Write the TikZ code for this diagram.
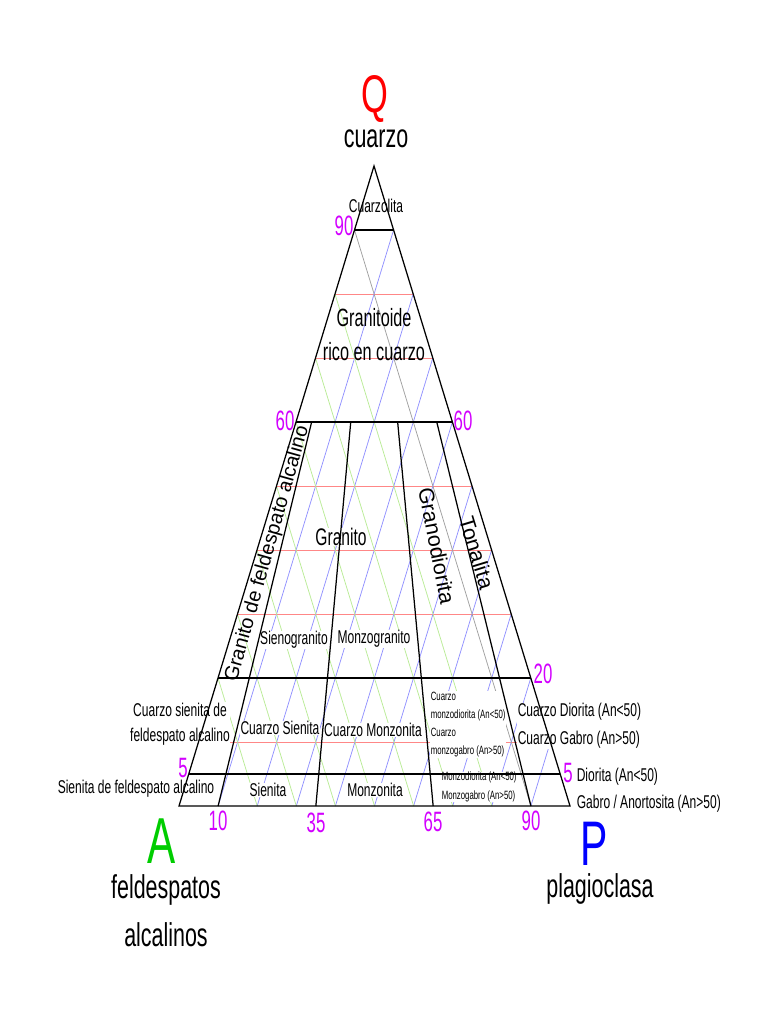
\documentclass[tikz,border=0pt]{standalone}
\usepackage{fontspec}
\setmainfont{Liberation Sans}[FakeStretch=0.65]
\newfontfamily\plainfont{Liberation Sans}
\newfontfamily\numfont{Liberation Sans}[FakeStretch=0.6]
\usetikzlibrary{calc}
\definecolor{mag}{RGB}{210,0,255}
\definecolor{qred}{RGB}{255,0,0}
\definecolor{agreen}{RGB}{0,205,0}
\definecolor{pblue}{RGB}{0,0,255}
\definecolor{gridred}{RGB}{255,135,135}
\definecolor{gridblue}{RGB}{145,145,255}
\definecolor{gridgreen}{RGB}{185,235,150}
\definecolor{gridgrey}{RGB}{160,160,160}
\newcommand\myfs[2]{\fontsize{#1}{#2}\selectfont}
\tikzset{
  edge/.style={line width=1.25pt, draw=black},
  gred/.style={line width=0.9pt, draw=gridred},
  gblue/.style={line width=0.75pt, draw=gridblue},
  ggreen/.style={line width=0.75pt, draw=gridgreen},
  ggrey/.style={line width=0.75pt, draw=gridgrey},
  lbl/.style={fill=white, inner sep=0.6pt, font=\myfs{18.5}{25}},
  small/.style={fill=white, inner sep=0.6pt, font=\myfs{12}{18.3}, align=left, anchor=west},
  num/.style={text=mag, inner sep=0pt, font=\numfont\myfs{28}{28}},
  title/.style={inner sep=0pt, font=\myfs{33}{48}, align=center},
  rot/.style={inner sep=0pt, font=\plainfont\myfs{20}{20}},
}
\begin{document}
\begin{tikzpicture}[x=1pt,y=1pt]
\useasboundingbox (0,0) rectangle (768,-1024);
\coordinate (A) at (179,-806);
\coordinate (P) at (570,-806);
\coordinate (Q) at (374,-166);
\coordinate (L60) at ($(A)!0.6!(Q)$);
\coordinate (R60) at ($(P)!0.6!(Q)$);

% ---------- grid ----------
\foreach \k in {0.1,0.3,0.4,0.5,0.7,0.8}{
  \coordinate (rl) at ($(A)!\k!(Q)$);
  \coordinate (rr) at ($(P)!\k!(Q)$);
  \draw[gred] (rl) -- (rr);
}
\foreach \k in {0.1,0.2,...,0.9}{
  \coordinate (bl) at ($(A)!\k!(P)$);
  \coordinate (br) at ($(Q)!\k!(P)$);
  \draw[gblue] (bl) -- (br);
}
\foreach \k in {0.2,0.3,...,0.9}{
  \coordinate (gl) at ($(P)!\k!(A)$);
  \coordinate (gr) at ($(Q)!\k!(A)$);
  \draw[ggreen] (gl) -- (gr);
}
\coordinate (gy1) at ($(P)!0.1!(A)$);
\coordinate (gy2) at ($(Q)!0.1!(A)$);
\draw[ggrey] (gy1) -- (gy2);

% ---------- titles ----------
\node[inner sep=0pt, text=qred, font=\myfs{53}{53}] (tq) at (375,-99) {Q};
\node[title] (tq2) at (376,-139) {cuarzo};
\node[inner sep=0pt, text=agreen, font=\myfs{65}{65}] (ta) at (162,-841) {A};
\node[title] (ta2) at (166,-911) {feldespatos\\alcalinos};
\node[inner sep=0pt, text=pblue, font=\myfs{63}{63}] (tp) at (594,-844) {P};
\node[title] (tp2) at (600,-889) {plagioclasa};

% ---------- field labels ----------
\node[lbl] (cuarzolita) at (376,-206) {Cuarzolita};
\node[inner sep=0pt, font=\myfs{25}{34}, align=center] (grq) at (374,-335) {Granitoide\\rico en cuarzo};
\node[lbl, font=\myfs{24}{24}] (granito) at (341,-537) {Granito};
\node[lbl] (sieno) at (294,-640) {Sienogranito};
\node[lbl] (monzog) at (374,-639) {Monzogranito};
\node[lbl, align=center] (qsfa) at (180,-724) {Cuarzo sienita de\\feldespato alcalino};
\node[lbl] (qsien) at (280,-728) {Cuarzo Sienita};
\node[lbl] (qmonz) at (373,-730) {Cuarzo Monzonita};
\node[small] (qmd) at (430,-724.5) {Cuarzo\\monzodiorita (An<50)\\Cuarzo\\monzogabro (An>50)};
\node[small] (md) at (441,-787) {Monzodiorita (An<50)\\Monzogabro (An>50)};
\node[lbl, align=left, anchor=west, font=\myfs{18.5}{28}] (qdio) at (517,-726) {Cuarzo Diorita (An<50)\\Cuarzo Gabro (An>50)};
\node[lbl, anchor=west] (dio) at (576,-777) {Diorita (An<50)};
\node[lbl, anchor=west] (gab) at (576,-804) {Gabro / Anortosita (An>50)};
\node[lbl] (sfa) at (136,-789) {Sienita de feldespato alcalino};
\node[lbl] (sien) at (268,-790) {Sienita};
\node[lbl] (monz) at (375,-790) {Monzonita};

% ---------- rotated labels ----------
\node[rot, rotate=74.3] (gfa) at (267.5,-554) {Granito de feldespato alcalino};
\node[rot, rotate=-79, font=\plainfont\myfs{21.5}{21.5}] (grd) at (437,-546) {Granodiorita};
\node[rot, rotate=-73, font=\plainfont\myfs{21.5}{21.5}] (ton) at (477,-553) {Tonalita};

% ---------- black field boundaries ----------
\draw[edge] (A) -- (P) -- (Q) -- cycle;
\foreach \q/\n in {0.9/a,0.6/b,0.2/c,0.05/d}{
  \coordinate (h\n l) at ($(A)!\q!(Q)$);
  \coordinate (h\n r) at ($(P)!\q!(Q)$);
  \draw[edge] (h\n l) -- (h\n r);
}
\foreach \r/\n in {0.1/a,0.35/b,0.65/c,0.9/d}{
  \coordinate (v\n t) at ($(L60)!\r!(R60)$);
  \coordinate (v\n b) at ($(A)!\r!(P)$);
  \draw[edge] (v\n t) -- (v\n b);
}

% ---------- numbers ----------
\node[num] (n90) at (344,-226) {90};
\node[num] (n60l) at (285,-421) {60};
\node[num] (n60r) at (463,-421) {60};
\node[num] (n20) at (543,-674) {20};
\node[num] (n5l) at (183,-768) {5};
\node[num] (n5r) at (568,-773) {5};
\node[num] (b10) at (218,-821) {10};
\node[num] (b35) at (316,-823) {35};
\node[num] (b65) at (433,-822) {65};
\node[num] (b90) at (531,-821) {90};
\end{tikzpicture}
\end{document}
